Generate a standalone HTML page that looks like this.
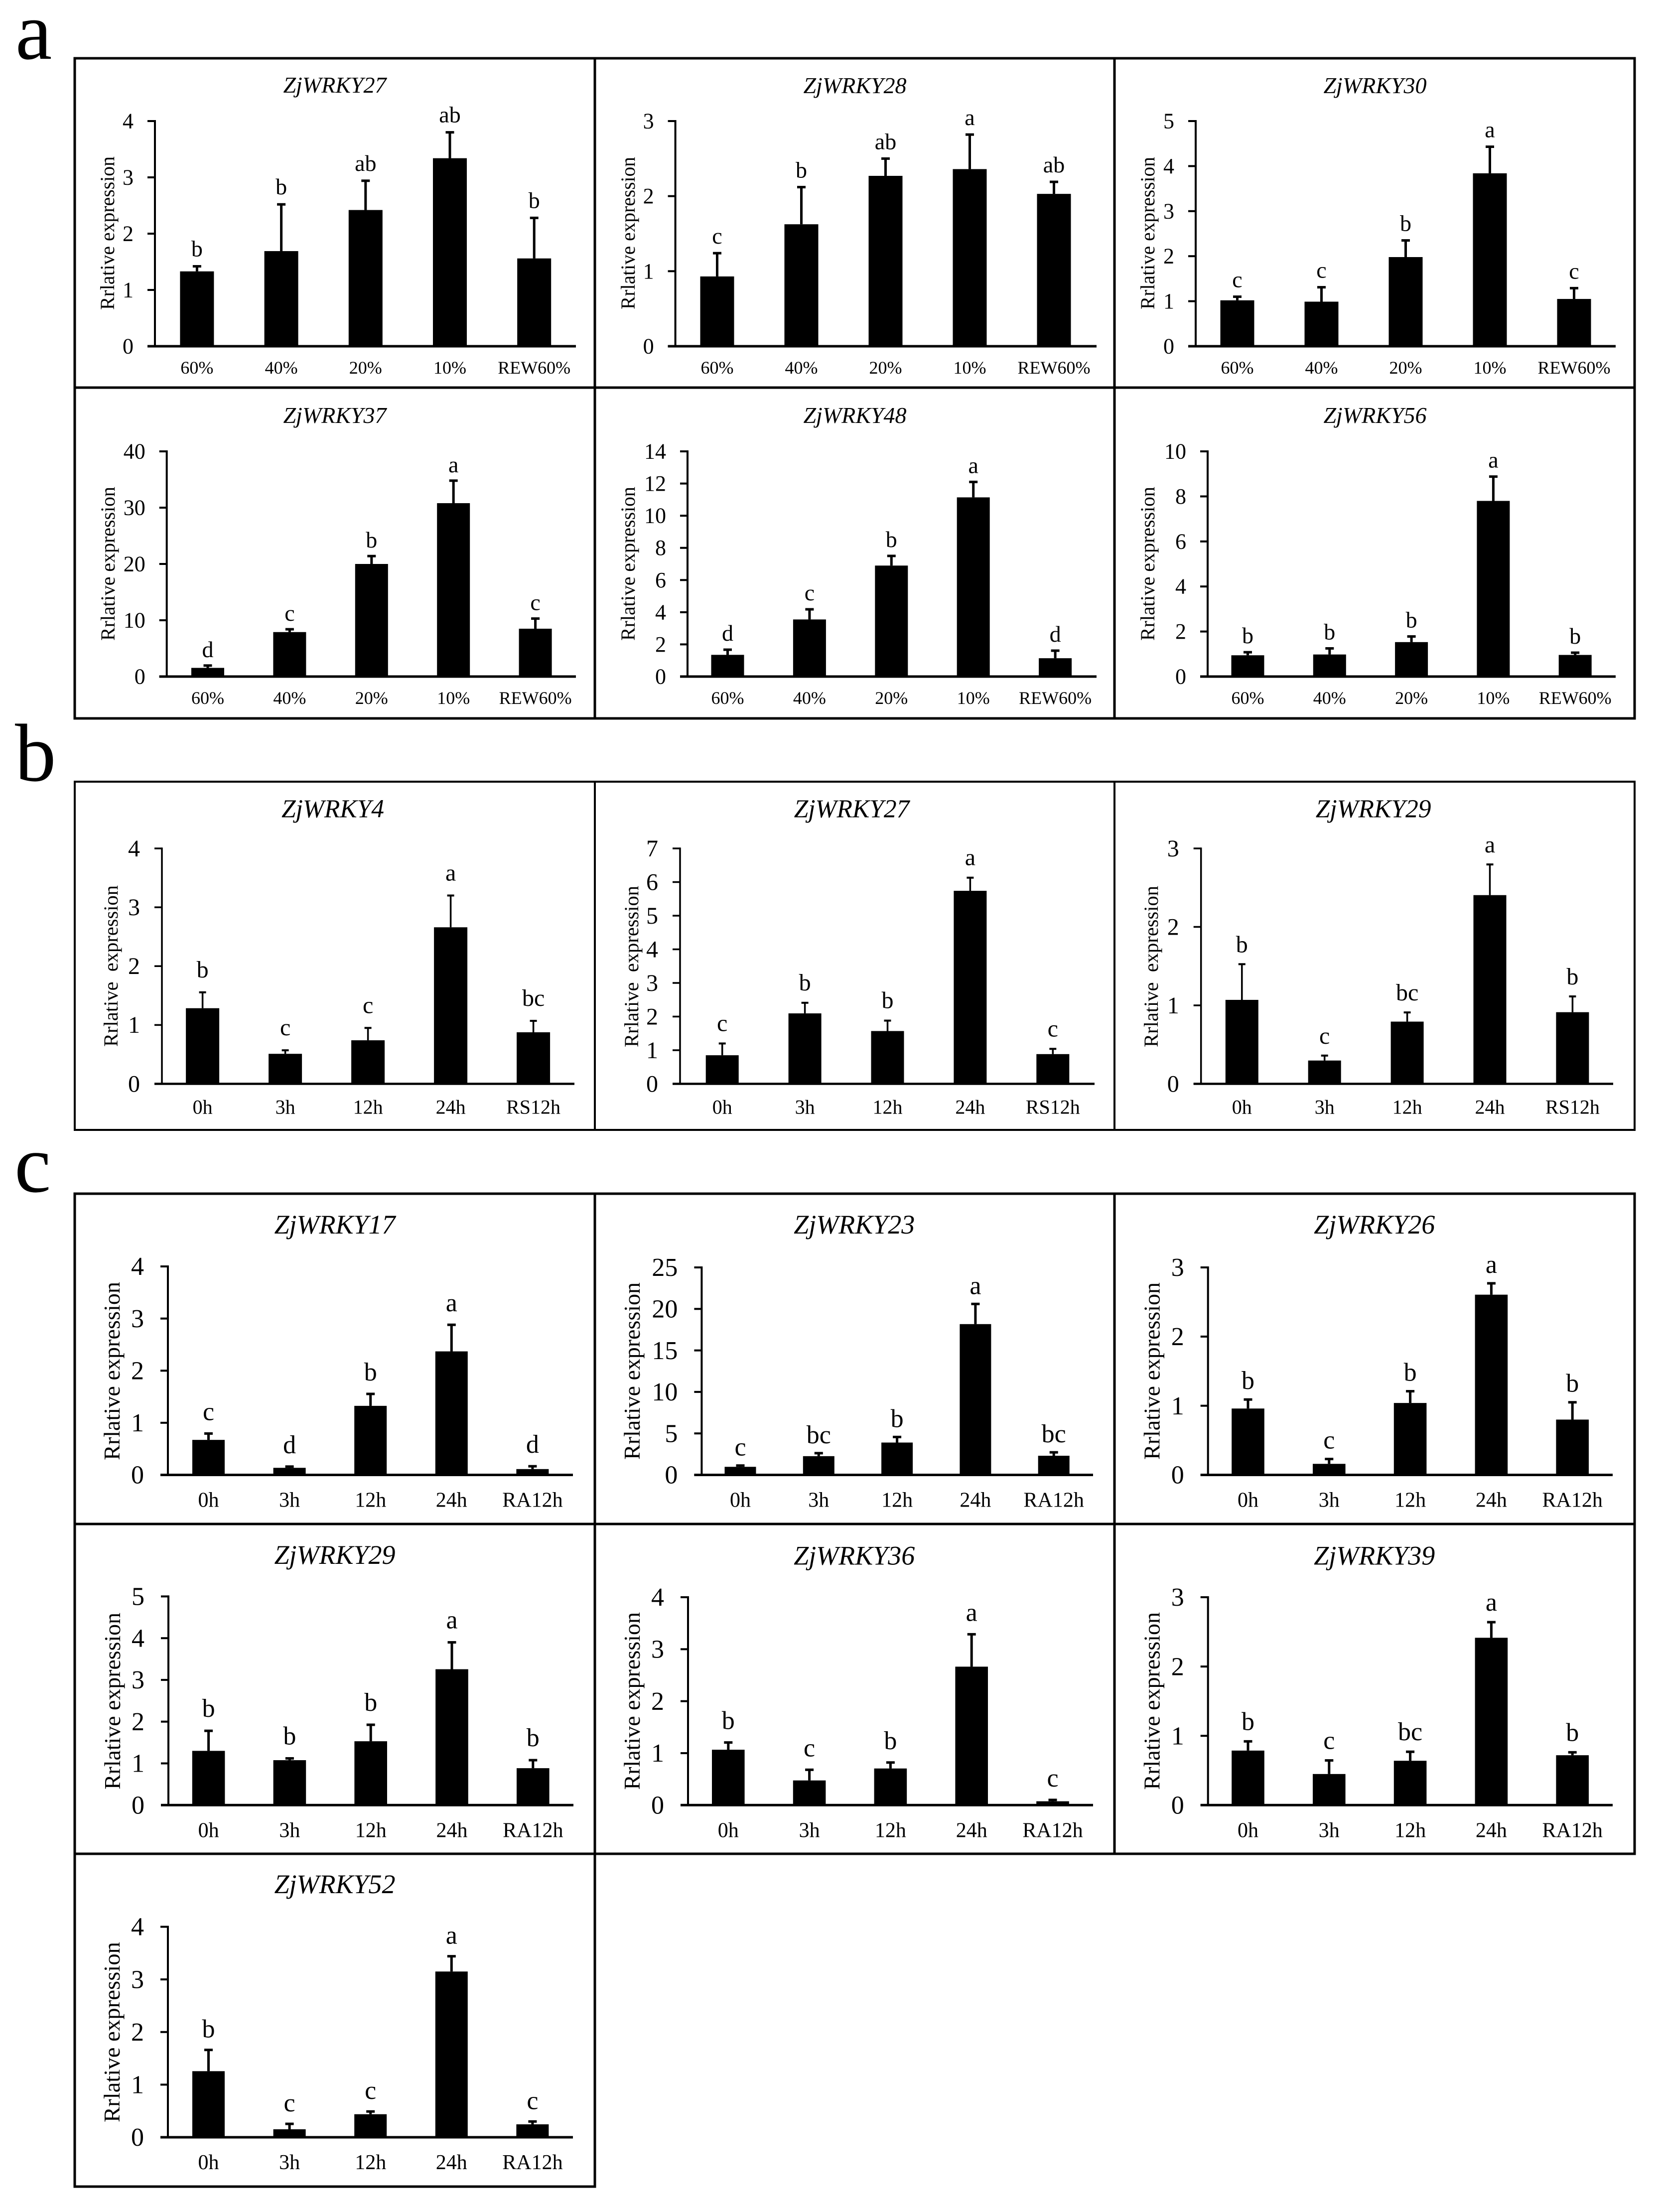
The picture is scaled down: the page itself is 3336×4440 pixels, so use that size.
<!DOCTYPE html>
<html lang="en">
<head>
<meta charset="utf-8">
<title>ZjWRKY relative expression</title>
<style>
html,body{margin:0;padding:0;background:#fff;width:3336px;height:4440px;overflow:hidden}
svg{display:block}
text{font-family:"Liberation Serif","Times New Roman",serif;fill:#000}
.ttl{font-style:italic}
.yl{white-space:pre}
</style>
</head>
<body>
<svg id="figure" xmlns="http://www.w3.org/2000/svg" width="3336" height="4440" viewBox="0 0 3336 4440">
<rect x="0" y="0" width="3336" height="4440" fill="#fff"/>
<text x="31" y="118" font-size="165">a</text>
<text x="30" y="1567" font-size="165">b</text>
<text x="29" y="2392" font-size="165">c</text>
<g stroke="#000" stroke-width="5" fill="none">
<rect x="150" y="117" width="3131" height="1325"/>
<path d="M1194 117V1442M2237 117V1442M150 778H3281"/>
</g>
<g stroke="#000" stroke-width="4" fill="none">
<rect x="150" y="1569" width="3131" height="699"/>
<path d="M1194 1569V2268M2237 1569V2268"/>
</g>
<g stroke="#000" stroke-width="5" fill="none">
<path d="M150 2396H3281V3721H1194V4389H150ZM1194 2396V3721M2237 2396V3721M150 3059H3281M150 3721H1194"/>
</g>
<g id="charts"></g>
</svg>
<script>
const categoriesA = ['60%', '40%', '20%', '10%', 'REW60%'];
const categoriesB = ['0h', '3h', '12h', '24h', 'RS12h'];
const categoriesC = ['0h', '3h', '12h', '24h', 'RA12h'];

const titleA1 = 'ZjWRKY27';
const ticksA1 = [0, 1, 2, 3, 4];
const meansA1 = [1.33, 1.69, 2.42, 3.34, 1.56];
const errTopA1 = [1.42, 2.52, 2.94, 3.80, 2.28];
const lettersA1 = ['b', 'b', 'ab', 'ab', 'b'];

const titleA2 = 'ZjWRKY28';
const ticksA2 = [0, 1, 2, 3];
const meansA2 = [0.93, 1.625, 2.27, 2.36, 2.03];
const errTopA2 = [1.24, 2.12, 2.50, 2.82, 2.19];
const lettersA2 = ['c', 'b', 'ab', 'a', 'ab'];

const titleA3 = 'ZjWRKY30';
const ticksA3 = [0, 1, 2, 3, 4, 5];
const meansA3 = [1.02, 0.99, 1.98, 3.84, 1.05];
const errTopA3 = [1.10, 1.31, 2.35, 4.43, 1.29];
const lettersA3 = ['c', 'c', 'b', 'a', 'c'];

const titleA4 = 'ZjWRKY37';
const ticksA4 = [0, 10, 20, 30, 40];
const meansA4 = [1.54, 7.9, 20, 30.8, 8.5];
const errTopA4 = [1.96, 8.4, 21.4, 34.8, 10.3];
const lettersA4 = ['d', 'c', 'b', 'a', 'c'];

const titleA5 = 'ZjWRKY48';
const ticksA5 = [0, 2, 4, 6, 8, 10, 12, 14];
const meansA5 = [1.35, 3.55, 6.9, 11.14, 1.14];
const errTopA5 = [1.67, 4.18, 7.5, 12.1, 1.61];
const lettersA5 = ['d', 'c', 'b', 'a', 'd'];

const titleA6 = 'ZjWRKY56';
const ticksA6 = [0, 2, 4, 6, 8, 10];
const meansA6 = [0.945, 0.98, 1.53, 7.8, 0.96];
const errTopA6 = [1.08, 1.25, 1.78, 8.88, 1.06];
const lettersA6 = ['b', 'b', 'b', 'a', 'b'];

const titleB1 = 'ZjWRKY4';
const ticksB1 = [0, 1, 2, 3, 4];
const meansB1 = [1.285, 0.51, 0.74, 2.66, 0.876];
const errTopB1 = [1.555, 0.57, 0.95, 3.2, 1.07];
const lettersB1 = ['b', 'c', 'c', 'a', 'bc'];

const titleB2 = 'ZjWRKY27';
const ticksB2 = [0, 1, 2, 3, 4, 5, 6, 7];
const meansB2 = [0.85, 2.095, 1.57, 5.74, 0.884];
const errTopB2 = [1.2, 2.41, 1.88, 6.13, 1.04];
const lettersB2 = ['c', 'b', 'b', 'a', 'c'];

const titleB3 = 'ZjWRKY29';
const ticksB3 = [0, 1, 2, 3];
const meansB3 = [1.07, 0.297, 0.793, 2.405, 0.913];
const errTopB3 = [1.525, 0.36, 0.91, 2.796, 1.114];
const lettersB3 = ['b', 'c', 'bc', 'a', 'b'];

const titleC1 = 'ZjWRKY17';
const ticksC1 = [0, 1, 2, 3, 4];
const meansC1 = [0.672, 0.136, 1.325, 2.37, 0.112];
const errTopC1 = [0.794, 0.16, 1.554, 2.88, 0.166];
const lettersC1 = ['c', 'd', 'b', 'a', 'd'];

const titleC2 = 'ZjWRKY23';
const ticksC2 = [0, 5, 10, 15, 20, 25];
const meansC2 = [0.975, 2.26, 3.9, 18.17, 2.31];
const errTopC2 = [1.13, 2.62, 4.57, 20.6, 2.72];
const lettersC2 = ['c', 'bc', 'b', 'a', 'bc'];

const titleC3 = 'ZjWRKY26';
const ticksC3 = [0, 1, 2, 3];
const meansC3 = [0.96, 0.16, 1.04, 2.606, 0.80];
const errTopC3 = [1.09, 0.23, 1.21, 2.77, 1.05];
const lettersC3 = ['b', 'c', 'b', 'a', 'b'];

const titleC4 = 'ZjWRKY29';
const ticksC4 = [0, 1, 2, 3, 4, 5];
const meansC4 = [1.30, 1.077, 1.53, 3.256, 0.885];
const errTopC4 = [1.78, 1.12, 1.925, 3.90, 1.077];
const lettersC4 = ['b', 'b', 'b', 'a', 'b'];

const titleC5 = 'ZjWRKY36';
const ticksC5 = [0, 1, 2, 3, 4];
const meansC5 = [1.066, 0.475, 0.705, 2.664, 0.074];
const errTopC5 = [1.205, 0.68, 0.82, 3.287, 0.10];
const lettersC5 = ['b', 'c', 'b', 'a', 'c'];

const titleC6 = 'ZjWRKY39';
const ticksC6 = [0, 1, 2, 3];
const meansC6 = [0.787, 0.449, 0.64, 2.415, 0.72];
const errTopC6 = [0.92, 0.645, 0.77, 2.64, 0.762];
const lettersC6 = ['b', 'c', 'bc', 'a', 'b'];

const titleC7 = 'ZjWRKY52';
const ticksC7 = [0, 1, 2, 3, 4];
const meansC7 = [1.256, 0.152, 0.438, 3.15, 0.246];
const errTopC7 = [1.66, 0.255, 0.49, 3.44, 0.30];
const lettersC7 = ['b', 'c', 'c', 'a', 'c'];

const STYLE_A = {axisW: 4, whisk: 5, capW: 17, capH: 5, tickFont: 44, tickGap: 43, xFont: 36, xDrop: 55, letterFont: 46, titleFont: 46, yFont: 40, yLabel: 'Rrlative expression'};
const STYLE_B = {axisW: 3.5, whisk: 3.5, capW: 14, capH: 4, tickFont: 48, tickGap: 44, xFont: 40, xDrop: 60, letterFont: 48, titleFont: 51.5, yFont: 40, yLabel: 'Rrlative  expression'};
const STYLE_C = {axisW: 4, whisk: 5, capW: 17, capH: 5, tickFont: 52, tickGap: 48, xFont: 42, xDrop: 64, letterFont: 52, titleFont: 54, yFont: 46, yLabel: 'Rrlative expression'};

const SVG_NS = 'http://www.w3.org/2000/svg';

function make(tag, attrs, parent) {
  const node = document.createElementNS(SVG_NS, tag);
  for (const key in attrs) node.setAttribute(key, attrs[key]);
  parent.appendChild(node);
  return node;
}

function drawPanel(id, s, L, title, ticks, cats, means, errTop, letters) {
  const root = document.getElementById('charts');
  const g = make('g', {}, root);
  
  

  const maxV = ticks[ticks.length - 1];
  const yScale = function (v) { return L.y0 - (v / maxV) * (L.y0 - L.top); };
  const xScale = function (i) { return L.cx + i * L.step; };

  const titleEl = make('text', {class: 'ttl', x: L.tx, y: L.y0 - L.titleDrop, 'text-anchor': 'middle', 'font-size': s.titleFont}, g);
  titleEl.textContent = title;
  
  

  const yMid = (L.yA + L.yB) / 2;
  const yTitle = make('text', {class: 'yl', x: 0, y: 0, 'text-anchor': 'middle', 'font-size': s.yFont, textLength: L.yA - L.yB, lengthAdjust: 'spacingAndGlyphs', transform: 'translate(' + (L.yx + 5) + ' ' + yMid + ') rotate(-90)'}, g);
  yTitle.textContent = s.yLabel;
  
  

  ticks.forEach(function (t) {
    const py = yScale(t);
    const tm = make('line', {x1: L.ax - 15, x2: L.ax, y1: py, y2: py, stroke: '#000', 'stroke-width': s.axisW}, g);
    
    
    const tl = make('text', {x: L.ax - s.tickGap, y: py + s.tickFont * 0.33, 'text-anchor': 'end', 'font-size': s.tickFont}, g);
    tl.textContent = String(t);
    
    
  });

  cats.forEach(function (c, i) {
    const cx = xScale(i);
    const barTop = yScale(means[i]);
    const errY = yScale(errTop[i]);

    const whisker = make('line', {x1: cx, x2: cx, y1: barTop, y2: errY, stroke: '#000', 'stroke-width': s.whisk}, g);
    
    

    const cap = make('rect', {x: cx - s.capW / 2, y: errY - s.capH / 2, width: s.capW, height: s.capH, fill: '#000'}, g);
    
    

    const bar = make('rect', {x: cx - L.bw / 2, y: barTop, width: L.bw, height: L.y0 - barTop, fill: '#000'}, g);
    
    

    const sig = make('text', {x: cx, y: errY - L.gap, 'text-anchor': 'middle', 'font-size': s.letterFont}, g);
    sig.textContent = letters[i];
    
    

    const xl = make('text', {x: cx, y: L.y0 + s.xDrop, 'text-anchor': 'middle', 'font-size': s.xFont}, g);
    xl.textContent = c;
    
    
  });

  const yAxis = make('line', {x1: L.ax, x2: L.ax, y1: L.top - s.axisW / 2, y2: L.y0, stroke: '#000', 'stroke-width': s.axisW}, g);
  
  

  const xAxis = make('line', {x1: L.ax - 15, x2: L.right, y1: L.y0, y2: L.y0, stroke: '#000', 'stroke-width': s.axisW + 1}, g);
  
  
}

drawPanel('a1', STYLE_A, {ax: 311, y0: 695, top: 243, right: 1156, cx: 395.4, step: 169.2, bw: 68, tx: 672, titleDrop: 509, yx: 224, yA: 622, yB: 314, gap: 20}, titleA1, ticksA1, categoriesA, meansA1, errTopA1, lettersA1);
drawPanel('a2', STYLE_A, {ax: 1355.6, y0: 695, top: 243, right: 2201, cx: 1439.5, step: 169, bw: 68, tx: 1716, titleDrop: 508, yx: 1269, yA: 621, yB: 315, gap: 19}, titleA2, ticksA2, categoriesA, meansA2, errTopA2, lettersA2);
drawPanel('a3', STYLE_A, {ax: 2400, y0: 695, top: 243, right: 3243, cx: 2483.5, step: 169, bw: 68, tx: 2760, titleDrop: 508, yx: 2312, yA: 621, yB: 315, gap: 19}, titleA3, ticksA3, categoriesA, meansA3, errTopA3, lettersA3);
drawPanel('a4', STYLE_A, {ax: 334.7, y0: 1358, top: 906, right: 1156, cx: 417, step: 164.4, bw: 66, tx: 672, titleDrop: 509, yx: 225, yA: 1286, yB: 977, gap: 17}, titleA4, ticksA4, categoriesA, meansA4, errTopA4, lettersA4);
drawPanel('a5', STYLE_A, {ax: 1380, y0: 1358, top: 906, right: 2201, cx: 1460.5, step: 164.4, bw: 66, tx: 1716, titleDrop: 509, yx: 1269, yA: 1286, yB: 977, gap: 18}, titleA5, ticksA5, categoriesA, meansA5, errTopA5, lettersA5);
drawPanel('a6', STYLE_A, {ax: 2424, y0: 1358, top: 906, right: 3243, cx: 2504.5, step: 164.3, bw: 66, tx: 2760, titleDrop: 509, yx: 2312, yA: 1286, yB: 977, gap: 18}, titleA6, ticksA6, categoriesA, meansA6, errTopA6, lettersA6);

drawPanel('b1', STYLE_B, {ax: 325, y0: 2175.5, top: 1703, right: 1153, cx: 406.6, step: 166, bw: 67, tx: 668, titleDrop: 535, yx: 231, yA: 2101, yB: 1777, gap: 30}, titleB1, ticksB1, categoriesB, meansB1, errTopB1, lettersB1);
drawPanel('b2', STYLE_B, {ax: 1365, y0: 2175.5, top: 1703, right: 2197, cx: 1449.7, step: 165.9, bw: 66, tx: 1709.5, titleDrop: 535, yx: 1276, yA: 2102, yB: 1778, gap: 25}, titleB2, ticksB2, categoriesB, meansB2, errTopB2, lettersB2);
drawPanel('b3', STYLE_B, {ax: 2410.7, y0: 2175.5, top: 1703, right: 3238, cx: 2492.8, step: 165.9, bw: 66, tx: 2756.6, titleDrop: 535, yx: 2319, yA: 2102, yB: 1778, gap: 24}, titleB3, ticksB3, categoriesB, meansB3, errTopB3, lettersB3);

drawPanel('c1', STYLE_C, {ax: 337, y0: 2960.5, top: 2542, right: 1150, cx: 418.5, step: 162.6, bw: 65, tx: 672, titleDrop: 484.5, yx: 235, yA: 2931, yB: 2573, gap: 27}, titleC1, ticksC1, categoriesC, meansC1, errTopC1, lettersC1);
drawPanel('c2', STYLE_C, {ax: 1408.4, y0: 2960.5, top: 2544, right: 2194, cx: 1486, step: 157.3, bw: 63, tx: 1714.7, titleDrop: 484.5, yx: 1279, yA: 2930, yB: 2574, gap: 20}, titleC2, ticksC2, categoriesC, meansC2, errTopC2, lettersC2);
drawPanel('c3', STYLE_C, {ax: 2424.7, y0: 2960.5, top: 2544, right: 3237, cx: 2505, step: 162.8, bw: 65.6, tx: 2758.7, titleDrop: 484.5, yx: 2322.6, yA: 2930, yB: 2574, gap: 21}, titleC3, ticksC3, categoriesC, meansC3, errTopC3, lettersC3);
drawPanel('c4', STYLE_C, {ax: 338, y0: 3623.3, top: 3204.4, right: 1151, cx: 418.6, step: 162.8, bw: 65.6, tx: 672, titleDrop: 484.3, yx: 236, yA: 3592, yB: 3237, gap: 28}, titleC4, ticksC4, categoriesC, meansC4, errTopC4, lettersC4);
drawPanel('c5', STYLE_C, {ax: 1381, y0: 3623.3, top: 3206, right: 2194, cx: 1461.8, step: 162.8, bw: 65.6, tx: 1714.7, titleDrop: 483, yx: 1279, yA: 3592.6, yB: 3236, gap: 27}, titleC5, ticksC5, categoriesC, meansC5, errTopC5, lettersC5);
drawPanel('c6', STYLE_C, {ax: 2424.7, y0: 3623.3, top: 3206, right: 3237, cx: 2505, step: 162.8, bw: 65.6, tx: 2758.7, titleDrop: 483, yx: 2322.6, yA: 3592.6, yB: 3236, gap: 23}, titleC6, ticksC6, categoriesC, meansC6, errTopC6, lettersC6);
drawPanel('c7', STYLE_C, {ax: 337, y0: 4290, top: 3867.5, right: 1150, cx: 418.5, step: 162.6, bw: 65, tx: 672, titleDrop: 490, yx: 235, yA: 4260, yB: 3898, gap: 25}, titleC7, ticksC7, categoriesC, meansC7, errTopC7, lettersC7);
</script>
</body>
</html>
